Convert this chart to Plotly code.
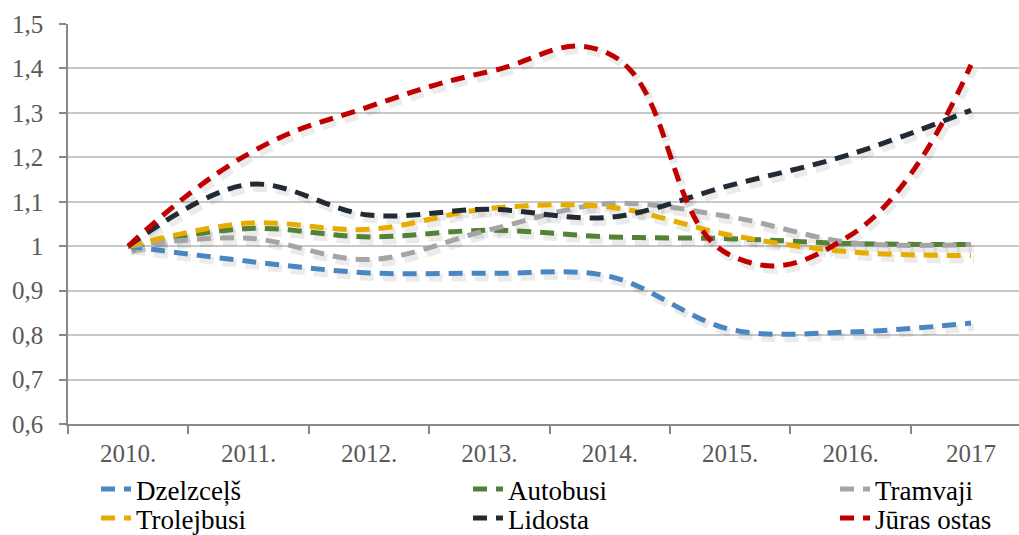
import plotly.graph_objects as go

# ---- data ----
years = ["2010.", "2011.", "2012.", "2013.", "2014.", "2015.", "2016.", "2017"]
dzelzcels = [1.0, 0.966, 0.940, 0.939, 0.932, 0.813, 0.807, 0.827]
autobusi = [1.0, 1.040, 1.021, 1.036, 1.021, 1.017, 1.006, 1.004]
tramvaji = [1.0, 1.018, 0.970, 1.037, 1.096, 1.066, 1.008, 1.004]
trolejbusi = [1.0, 1.052, 1.038, 1.085, 1.088, 1.025, 0.987, 0.979]
lidosta = [1.0, 1.139, 1.070, 1.083, 1.065, 1.137, 1.207, 1.306]
juras_ostas = [1.0, 1.208, 1.314, 1.393, 1.432, 0.980, 1.025, 1.408]

names = ["Dzelzceļš", "Autobusi", "Tramvaji", "Trolejbusi", "Lidosta", "Jūras ostas"]
values = [dzelzcels, autobusi, tramvaji, trolejbusi, lidosta, juras_ostas]
colors = ["#4a86c1", "#538135", "#a5a5a5", "#e6ac00", "#222a35", "#c00000"]
smooth = [1, 1, 1, 1, 1, 1.3]

y_tick_vals = [0.6, 0.7, 0.8, 0.9, 1.0, 1.1, 1.2, 1.3, 1.4, 1.5]
y_tick_text = ["0,6", "0,7", "0,8", "0,9", "1", "1,1", "1,2", "1,3", "1,4", "1,5"]

# ---- geometry / style ----
W, H = 1019, 535
ML, MR, MT, MB = 68, 0, 24, 111.4
plot_w = W - ML - MR
plot_h = H - MT - MB
cat_px = 120.4
x_range = [-0.5, -0.5 + plot_w / cat_px]
y_range = [0.6, 1.5]
ux = (x_range[1] - x_range[0]) / plot_w
uy = (y_range[1] - y_range[0]) / plot_h
sh_dx, sh_dy = 3, 4  # shadow offset in px
DASH = "14px,9px"
FONT = "Liberation Serif, Times New Roman, serif"

# legend grid: 3 columns x 2 rows (one legend box per entry)
leg_col_x = [96, 468, 835]
leg_row_top = [465, 494]
legend_ids = ["legend", "legend2", "legend3", "legend4", "legend5", "legend6"]

fig = go.Figure()

# shadows (on hidden base axes, shifted)
for name, vals, sm in zip(names, values, smooth):
    fig.add_trace(go.Scatter(
        x=years, y=vals, mode="lines", xaxis="x", yaxis="y",
        line=dict(color="rgba(0,0,0,0.08)", width=8, shape="spline", smoothing=sm, dash=DASH),
        showlegend=False, hoverinfo="skip"))

# main lines
for name, vals, col, lg, sm in zip(names, values, colors, legend_ids, smooth):
    fig.add_trace(go.Scatter(
        x=years, y=vals, mode="lines", name=name, xaxis="x2", yaxis="y2",
        legend=lg,
        line=dict(color=col, width=5, shape="spline", smoothing=sm, dash=DASH)))

axis_col = "#898989"
fig.update_layout(
    width=W, height=H,
    margin=dict(l=ML, r=MR, t=MT, b=MB, autoexpand=False),
    paper_bgcolor="white", plot_bgcolor="white",
    font=dict(family=FONT, size=25, color="#595959"),
    xaxis=dict(type="category", range=[x_range[0] - sh_dx * ux, x_range[1] - sh_dx * ux],
               visible=False, showgrid=False, zeroline=False),
    yaxis=dict(range=[y_range[0] + sh_dy * uy, y_range[1] + sh_dy * uy],
               visible=False, showgrid=False, zeroline=False),
    xaxis2=dict(type="category", overlaying="x", range=x_range,
                tickson="boundaries", ticks="outside", ticklen=8, tickwidth=1.5,
                tickcolor=axis_col, showline=True, linecolor=axis_col, linewidth=1.5,
                showgrid=False, zeroline=False, ticklabelstandoff=6,
                tickfont=dict(family=FONT, size=25, color="#595959")),
    yaxis2=dict(overlaying="y", range=y_range, tickvals=y_tick_vals, ticktext=y_tick_text,
                ticks="outside", ticklen=7, tickwidth=1.5, tickcolor=axis_col,
                showline=True, linecolor=axis_col, linewidth=1.5,
                showgrid=True, gridcolor="#c8c8c8", gridwidth=1.5, zeroline=False,
                ticklabelstandoff=11,
                tickfont=dict(family=FONT, size=25, color="#595959")),
)

leg_common = dict(orientation="v", xref="container", yref="container", yanchor="top",
                  xanchor="left", bgcolor="rgba(0,0,0,0)", borderwidth=0,
                  font=dict(family=FONT, size=27, color="#000000"),
                  itemwidth=30, tracegroupgap=0)
legend_layout = {}
for i, lg in enumerate(legend_ids):
    r, c = divmod(i, 3)
    legend_layout[lg] = dict(x=leg_col_x[c] / W, y=1 - leg_row_top[r] / H, **leg_common)
fig.update_layout(**legend_layout)

fig.write_html("out.html", config={"displayModeBar": False},
               post_script="document.body.style.margin='0';")
